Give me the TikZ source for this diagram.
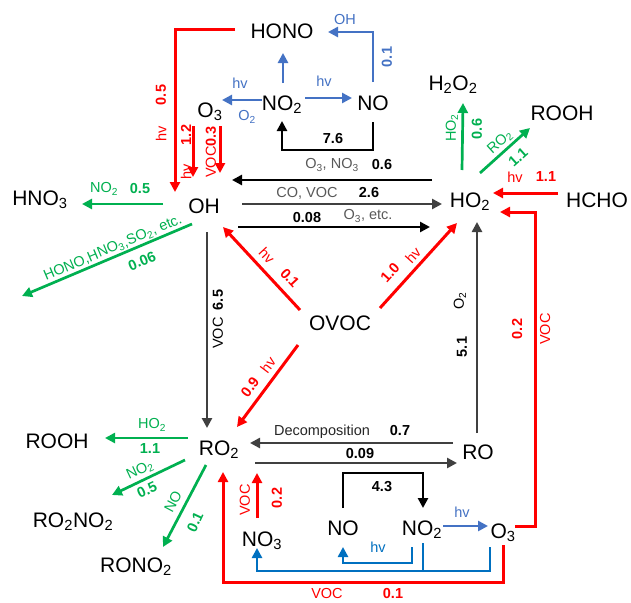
\documentclass[tikz,border=0pt]{standalone}
\usepackage{fontspec}
\setmainfont{Liberation Sans}
\usetikzlibrary{arrows.meta}
\newcommand\ssb[1]{\textsubscript{#1}}
\definecolor{cR}{RGB}{255,0,0}
\definecolor{cG}{RGB}{0,176,80}
\definecolor{cB}{RGB}{68,114,196}
\definecolor{cBB}{RGB}{0,112,192}
\definecolor{cK}{RGB}{64,64,64}
\definecolor{cT}{RGB}{89,89,89}
\begin{document}
\begin{tikzpicture}[x=1pt,y=-1pt,
  sp/.style={font=\fontsize{21}{22}\selectfont, inner sep=0pt, anchor=base},
  lb/.style={font=\fontsize{14.5}{15}\selectfont, inner sep=0pt},
  nb/.style={font=\fontsize{14.5}{15}\selectfont\bfseries, inner sep=0pt},
  ar/.style={line width=2.7pt, -{Triangle[length=10pt,width=10pt]}},
  ln/.style={line width=2.7pt},
  arR/.style={ar, draw=cR, line width=3pt},
  arG/.style={ar, draw=cG},
  arB/.style={ar, draw=cB},
  arBB/.style={ar, draw=cBB},
  arK/.style={ar, draw=cK},
  arBk/.style={ar, draw=black},
]
\useasboundingbox (0,0) rectangle (631,602);
\fill[white] (0,0) rectangle (631,602);

% species
\node[sp] (HONO) at (282,39) {HONO};
\node[sp] (O3t) at (210,117) {O\ssb{3}};
\node[sp] (NO2t) at (282,110) {NO\ssb{2}};
\node[sp] (NOt) at (373,110) {NO};
\node[sp] (H2O2) at (453,90) {H\ssb{2}O\ssb{2}};
\node[sp] (ROOHt) at (562,120) {ROOH};
\node[sp] (HNO3) at (40,205) {HNO\ssb{3}};
\node[sp] (OH) at (204,213) {OH};
\node[sp] (HO2) at (470,207) {HO\ssb{2}};
\node[sp] (HCHO) at (597,207) {HCHO};
\node[sp] (OVOC) at (340,330) {OVOC};
\node[sp] (RO2) at (219,455) {RO\ssb{2}};
\node[sp] (RO) at (478,459) {RO};
\node[sp] (ROOHb) at (57,448) {ROOH};
\node[sp] (RO2NO2) at (73,527) {RO\ssb{2}NO\ssb{2}};
\node[sp] (RONO2) at (136,572) {RONO\ssb{2}};
\node[sp] (NO3) at (262,546) {NO\ssb{3}};
\node[sp] (NOb) at (343,535) {NO};
\node[sp] (NO2b) at (422,535) {NO\ssb{2}};
\node[sp] (O3b) at (503,538) {O\ssb{3}};

% connector end points
\coordinate (c1a) at (235,30); \coordinate (c1b) at (175,192);
\coordinate (c2a) at (193,126); \coordinate (c2b) at (193,177);
\coordinate (c3a) at (220,126); \coordinate (c3b) at (220,173);
\coordinate (c4a) at (262,100); \coordinate (c4b) at (222,100);
\coordinate (c5a) at (305,98); \coordinate (c5b) at (352,98);
\coordinate (c6a) at (283,83); \coordinate (c6b) at (283,53);
\coordinate (c7a) at (373,82); \coordinate (c7b) at (328,32);
\coordinate (c8a) at (373,122); \coordinate (c8m) at (373,150); \coordinate (c8b) at (282,121);
\coordinate (c9a) at (432,180); \coordinate (c9b) at (232,180);
\coordinate (c10a) at (242,204); \coordinate (c10b) at (442,204);
\coordinate (c11a) at (238,227); \coordinate (c11b) at (430,227);
\coordinate (c12a) at (558,193); \coordinate (c12b) at (493,193);
\coordinate (c13a) at (515,526); \coordinate (c13m) at (535,526); \coordinate (c13b) at (500,212);
\coordinate (c14a) at (462,170); \coordinate (c14b) at (463,103);
\coordinate (c15a) at (480,173); \coordinate (c15b) at (530,128);
\coordinate (c16a) at (163,204); \coordinate (c16b) at (82,204);
\coordinate (c17a) at (192,224); \coordinate (c17b) at (22,296);
\coordinate (c18a) at (207,232); \coordinate (c18b) at (207,428);
\coordinate (c19a) at (477,433); \coordinate (c19b) at (477,222);
\coordinate (c20a) at (300,310); \coordinate (c20b) at (223,227);
\coordinate (c21a) at (380,308); \coordinate (c21b) at (457,223);
\coordinate (c22a) at (298,345); \coordinate (c22b) at (237,427);
\coordinate (c23a) at (453,443); \coordinate (c23b) at (250,443);
\coordinate (c24a) at (255,463); \coordinate (c24b) at (457,463);
\coordinate (c25a) at (188,438); \coordinate (c25b) at (105,438);
\coordinate (c26a) at (185,460); \coordinate (c26b) at (112,495);
\coordinate (c27a) at (206,465); \coordinate (c27b) at (163,547);
\coordinate (c28a) at (257,518); \coordinate (c28b) at (257,473);
\coordinate (c29a) at (503,545); \coordinate (c29m) at (223,582); \coordinate (c29b) at (223,472);
\coordinate (c30a) at (343,508); \coordinate (c30m) at (383,473); \coordinate (c30b) at (423,508);
\coordinate (c31a) at (443,526); \coordinate (c31b) at (488,526);
\coordinate (c32a) at (412,547); \coordinate (c32m) at (378,563); \coordinate (c32b) at (343,547);
\coordinate (c33a) at (490,547); \coordinate (c33m) at (257,571); \coordinate (c33b) at (257,548);
\coordinate (c34a) at (423,543); \coordinate (c34b) at (423,571);

% top
\draw[arR] (c1a) -| (c1b);
\draw[arR] (c2a) -- (c2b);
\draw[arR] (c3a) -- (c3b);
\draw[arB] (c4a) -- (c4b);
\draw[arB] (c5a) -- (c5b);
\draw[arB] (c6a) -- (c6b);
\draw[arB] (c7a) |- (c7b);
\draw[arBk] (c8a) -- (c8m) -| (c8b);
% middle
\draw[arBk] (c9a) -- (c9b);
\draw[arK] (c10a) -- (c10b);
\draw[arBk] (c11a) -- (c11b);
\draw[arR] (c12a) -- (c12b);
\draw[arR] (c13a) -- (c13m) |- (c13b);
\draw[arG] (c14a) -- (c14b);
\draw[arG] (c15a) -- (c15b);
\draw[arG] (c16a) -- (c16b);
\draw[arG] (c17a) -- (c17b);
\draw[arK] (c18a) -- (c18b);
\draw[arK] (c19a) -- (c19b);
\draw[arR] (c20a) -- (c20b);
\draw[arR] (c21a) -- (c21b);
\draw[arR] (c22a) -- (c22b);
% bottom
\draw[arK] (c23a) -- (c23b);
\draw[arK] (c24a) -- (c24b);
\draw[arG] (c25a) -- (c25b);
\draw[arG] (c26a) -- (c26b);
\draw[arG] (c27a) -- (c27b);
\draw[arR] (c28a) -- (c28b);
\draw[arR] (c29a) |- (c29m) -- (c29b);
\draw[arBk] (c30a) |- (c30m) -| (c30b);
\draw[arB] (c31a) -- (c31b);
\draw[arBB] (c32a) |- (c32m) -| (c32b);
\draw[arBB] (c33a) |- (c33m) -- (c33b);
\draw[ln, draw=cBB] (c34a) -- (c34b);

% labels top
\node[lb,text=cR,rotate=90] (l1) at (161,134) {hv};
\node[nb,text=cR,rotate=90] (l2) at (161,95) {0.5};
\node[nb,text=cR,rotate=90] (l3) at (186,135) {1.2};
\node[lb,text=cR,rotate=90] (l4) at (186,172) {hv};
\node[lb,text=cR,rotate=90] (l5) at (211,152) {VOC\textbf{0.3}};
\node[lb,text=cB] (l6) at (240,83) {hv};
\node[lb,text=cB] (l7) at (247,117) {O\ssb{2}};
\node[lb,text=cB] (l8) at (324,81) {hv};
\node[lb,text=cB] (l9) at (345,20) {OH};
\node[nb,text=cB,rotate=90] (l10) at (387,57) {0.1};
\node[nb] (l11) at (333,139) {7.6};
% labels middle
\node[lb,text=cT] (l12) at (332,165) {O\ssb{3}, NO\ssb{3}};
\node[nb] (l13) at (382,165) {0.6};
\node[lb,text=cT] (l14) at (307,193) {CO, VOC};
\node[nb] (l15) at (369,193) {2.6};
\node[nb] (l16) at (307,218) {0.08};
\node[lb,text=cT] (l17) at (368,216) {O\ssb{3}, etc.};
\node[lb,text=cR] (l18) at (515,177) {hv};
\node[nb,text=cR] (l19) at (546,177) {1.1};
\node[nb,text=cR,rotate=90] (l20) at (517,329) {0.2};
\node[lb,text=cR,rotate=90] (l21) at (545,329) {VOC};
\node[lb,text=cG,rotate=90] (l22) at (452,128) {HO\ssb{2}};
\node[nb,text=cG,rotate=90] (l23) at (477,129) {0.6};
\node[lb,text=cG,rotate=42] (l24) at (500,142) {RO\ssb{2}};
\node[nb,text=cG,rotate=42] (l25) at (518,157) {1.1};
\node[lb,text=cG] (l26) at (104,189) {NO\ssb{2}};
\node[nb,text=cG] (l27) at (140,189) {0.5};
\node[lb,text=cG,rotate=23] (l28) at (113,248) {HONO,HNO\ssb{3},SO\ssb{2}, etc.};
\node[nb,text=cG,rotate=23] (l29) at (142,261) {0.06};
\node[nb,rotate=90] (l30) at (218,300) {6.5};
\node[lb,rotate=90] (l31) at (218,333) {VOC};
\node[lb,rotate=90] (l32) at (460,301) {O\ssb{2}};
\node[nb,rotate=90] (l33) at (462,347) {5.1};
\node[lb,text=cR,rotate=-47] (l34) at (267,256) {hv};
\node[nb,text=cR,rotate=-47] (l35) at (290,278) {0.1};
\node[nb,text=cR,rotate=48] (l36) at (390,273) {1.0};
\node[lb,text=cR,rotate=48] (l37) at (413,255) {hv};
\node[nb,text=cR,rotate=53] (l38) at (250,387) {0.9};
\node[lb,text=cR,rotate=53] (l39) at (268,365) {hv};
% labels bottom
\node[lb,text=black!85] (l40) at (322,432) {Decomposition};
\node[nb] (l41) at (400,431) {0.7};
\node[nb] (l42) at (360,454) {0.09};
\node[lb,text=cG] (l43) at (152,425) {HO\ssb{2}};
\node[nb,text=cG] (l44) at (150,449) {1.1};
\node[lb,text=cG,rotate=25] (l45) at (140,470) {NO\ssb{2}};
\node[nb,text=cG,rotate=25] (l46) at (147,490) {0.5};
\node[lb,text=cG,rotate=62] (l47) at (173,502) {NO};
\node[nb,text=cG,rotate=65] (l48) at (195,522) {0.1};
\node[lb,text=cR,rotate=90] (l49) at (245,500) {VOC};
\node[nb,text=cR,rotate=90] (l50) at (277,498) {0.2};
\node[nb] (l51) at (382,487) {4.3};
\node[lb,text=cB] (l52) at (462,512) {hv};
\node[lb,text=cBB] (l53) at (378,547) {hv};
\node[lb,text=cR] (l54) at (327,593) {VOC};
\node[nb,text=cR] (l55) at (393,593) {0.1};
\end{tikzpicture}
\end{document}
